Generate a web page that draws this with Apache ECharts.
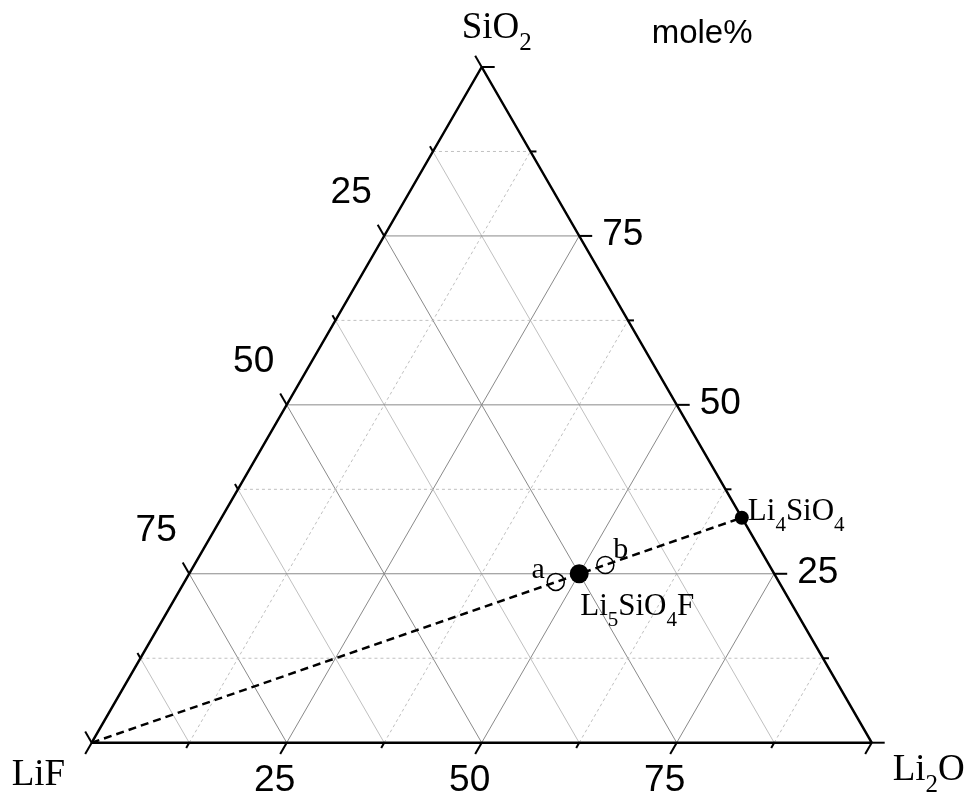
<!DOCTYPE html>
<html><head><meta charset="utf-8">
<script src="https://cdn.jsdelivr.net/npm/echarts@6/dist/echarts.min.js"></script>
<style>html,body{margin:0;padding:0;background:#fff}#c{width:974px;height:800px}</style>
</head><body><div id="c"></div>
<script>
// Ternary diagram LiF – Li2O – SiO2 (mole%)
const vertexNames = ['LiF', 'Li2O', 'SiO2'];          // bottom-left, bottom-right, top
const unitLabel = 'mole%';
const tickValues = [0, 12.5, 25, 37.5, 50, 62.5, 75, 87.5, 100];
const tickLabelValues = [25, 50, 75];
const gridValues = [12.5, 25, 37.5, 50, 62.5, 75, 87.5];
// compounds (mole% LiF, Li2O, SiO2)
const compoundNames = ['Li4SiO4', 'Li5SiO4F'];
const compoundLiF  = [0, 25];
const compoundLi2O = [66.7, 50];
const compoundSiO2 = [33.3, 25];
// samples a, b
const sampleNames = ['a', 'b'];
const sampleLiF  = [28.6, 21];
const sampleLi2O = [47.6, 52.7];
const sampleSiO2 = [23.8, 26.3];
// tie line LiF — Li4SiO4
const tieLiF  = [100, 0];
const tieLi2O = [0, 66.7];
const tieSiO2 = [0, 33.3];

const S3 = Math.sqrt(3) / 2;
function toXY(lif, li2o, sio2) {
  const t = lif + li2o + sio2;
  const a = li2o / t, c = sio2 / t;
  return [a + c / 2, c * S3];
}
const SERIF = '"Liberation Serif", "Times New Roman", serif';
const SANS = '"Liberation Sans", Arial, sans-serif';
const INK = '#000000';

function chem(name) {
  return name.replace(/[A-Za-z]+|\d+/g, t => /\d/.test(t) ? '{s|' + t + '}' : '{m|' + t + '}');
}
function chemRich(F, f, L) {
  return {
    m: { fontFamily: SERIF, fontSize: F, lineHeight: L, verticalAlign: 'top', color: INK, opacity: 1 },
    s: { fontFamily: SERIF, fontSize: f, lineHeight: L, verticalAlign: 'bottom', color: INK, opacity: 1 }
  };
}

// grid lines: family 0 = LiF const, 1 = Li2O const, 2 = SiO2 const
const gridData = [];
[0, 1, 2].forEach(f => gridValues.forEach(v => gridData.push([f, v])));
function gridSeg(fam, v) {
  if (fam === 0) return [toXY(v, 1 - v, 0), toXY(v, 0, 1 - v)];
  if (fam === 1) return [toXY(1 - v, v, 0), toXY(0, v, 1 - v)];
  return [toXY(1 - v, 0, v), toXY(0, 1 - v, v)];
}
function renderGrid(params, api) {
  const fam = api.value(0), val = api.value(1);
  const seg = gridSeg(fam, val / 100);
  const P = api.coord(seg[0]), Q = api.coord(seg[1]);
  const major = val % 25 === 0;
  let style;
  if (major) style = { stroke: '#8a8a8a', lineWidth: 1 };
  else if (fam === 0) style = { stroke: '#c0c0c0', lineWidth: 1 };
  else style = { stroke: '#c0c0c0', lineWidth: 1, lineDash: [3, 3] };
  return { type: 'line', shape: { x1: P[0], y1: P[1], x2: Q[0], y2: Q[1] }, style: style };
}

// ticks
const tickData = [];
[0, 1, 2].forEach(f => tickValues.forEach(v => tickData.push([f, v])));
function tickBase(fam, v) {
  if (fam === 0) return toXY(v, 0, 1 - v);      // left edge (LiF)
  if (fam === 1) return toXY(1 - v, v, 0);      // bottom edge (Li2O)
  return toXY(0, 1 - v, v);                     // right edge (SiO2)
}
const tickDir = [[-0.5, -S3], [-0.5, S3], [1, 0]];
function renderTick(params, api) {
  const fam = api.value(0), val = api.value(1);
  const P = api.coord(tickBase(fam, val / 100));
  const len = val % 25 === 0 ? 13 : 6;
  const d = tickDir[fam];
  return { type: 'line', shape: { x1: P[0], y1: P[1], x2: P[0] + d[0] * len, y2: P[1] + d[1] * len },
           style: { stroke: '#000', lineWidth: 2 } };
}

// text items
const textItems = [];
function addText(pt, text, lab) {
  textItems.push({ value: pt, label: Object.assign({ show: true, position: 'inside', formatter: text,
    color: INK, opacity: 1, textBorderWidth: 0 }, lab) });
}
const tickLabelStyle = [
  { align: 'center', verticalAlign: 'middle', offset: [-33, -43] },
  { align: 'center', verticalAlign: 'middle', offset: [-12, 38] },
  { align: 'left', verticalAlign: 'middle', offset: [23, -1] }
];
[0, 1, 2].forEach(f => tickLabelValues.forEach(v => {
  addText(tickBase(f, v / 100), String(v),
    Object.assign({ fontFamily: SANS, fontSize: 37, lineHeight: 37 }, tickLabelStyle[f]));
}));
const vertexPts = [toXY(100, 0, 0), toXY(0, 100, 0), toXY(0, 0, 100)];
const vertexOffsets = [[-80, 14], [21, 9], [-20, -57]];
vertexNames.forEach((n, i) => addText(vertexPts[i], chem(n),
  { align: 'left', verticalAlign: 'top', offset: vertexOffsets[i], rich: chemRich(37, 25, 46) }));
addText(vertexPts[2], unitLabel, { align: 'left', verticalAlign: 'top', offset: [170, -50],
  fontFamily: SANS, fontSize: 33, lineHeight: 33 });
const compoundPts = compoundNames.map((n, i) => toXY(compoundLiF[i], compoundLi2O[i], compoundSiO2[i]));
const compoundOffsets = [[6, -21], [1, 18]];
compoundNames.forEach((n, i) => addText(compoundPts[i], chem(n),
  { align: 'left', verticalAlign: 'top', offset: compoundOffsets[i], rich: chemRich(31, 21, 39) }));
const samplePts = sampleNames.map((n, i) => toXY(sampleLiF[i], sampleLi2O[i], sampleSiO2[i]));
const sampleLabelStyle = [{ align: 'right', offset: [-11, -27] }, { align: 'left', offset: [8, -30] }];
sampleNames.forEach((n, i) => addText(samplePts[i], n,
  Object.assign({ verticalAlign: 'top', fontFamily: SERIF, fontSize: 30, lineHeight: 30 }, sampleLabelStyle[i])));

const edgeData = [vertexPts[0], vertexPts[1], vertexPts[2], vertexPts[0], vertexPts[1]];
const tieData = tieLiF.map((v, i) => toXY(tieLiF[i], tieLi2O[i], tieSiO2[i]));

const chart = echarts.init(document.getElementById('c'));
chart.setOption({
  animation: false,
  backgroundColor: '#fff',
  textStyle: { color: INK },
  grid: { left: 91.7, top: 67, width: 780, height: 675.7 },
  xAxis: { type: 'value', min: 0, max: 1, show: false },
  yAxis: { type: 'value', min: 0, max: S3, show: false },
  series: [
    { type: 'custom', name: 'grid', renderItem: renderGrid, data: gridData, z: 1, silent: true },
    { type: 'line', name: 'edges', data: edgeData, symbol: 'none', z: 3, silent: true,
      lineStyle: { color: '#000', width: 2.5 } },
    { type: 'custom', name: 'ticks', renderItem: renderTick, data: tickData, z: 3, silent: true },
    { type: 'line', name: 'tie', data: tieData, symbol: 'none', z: 4, silent: true,
      lineStyle: { color: '#000', width: 2.5, type: [8, 5] } },
    { type: 'scatter', name: 'compounds', data: compoundPts, z: 5, silent: true,
      symbolSize: (v, p) => p.dataIndex === 0 ? 14 : 19, itemStyle: { color: '#000', opacity: 1 } },
    { type: 'scatter', name: 'samples', data: samplePts, z: 5, silent: true, symbolSize: 17,
      itemStyle: { color: 'rgba(0,0,0,0)', borderColor: '#000', borderWidth: 1.5, opacity: 1 } },
    { type: 'scatter', name: 'texts', data: textItems, z: 6, silent: true, symbolSize: 1,
      label: { show: true, color: INK, opacity: 1 },
      itemStyle: { color: 'rgba(0,0,0,0)' }, emphasis: { disabled: true } }
  ]
});
</script></body></html>
